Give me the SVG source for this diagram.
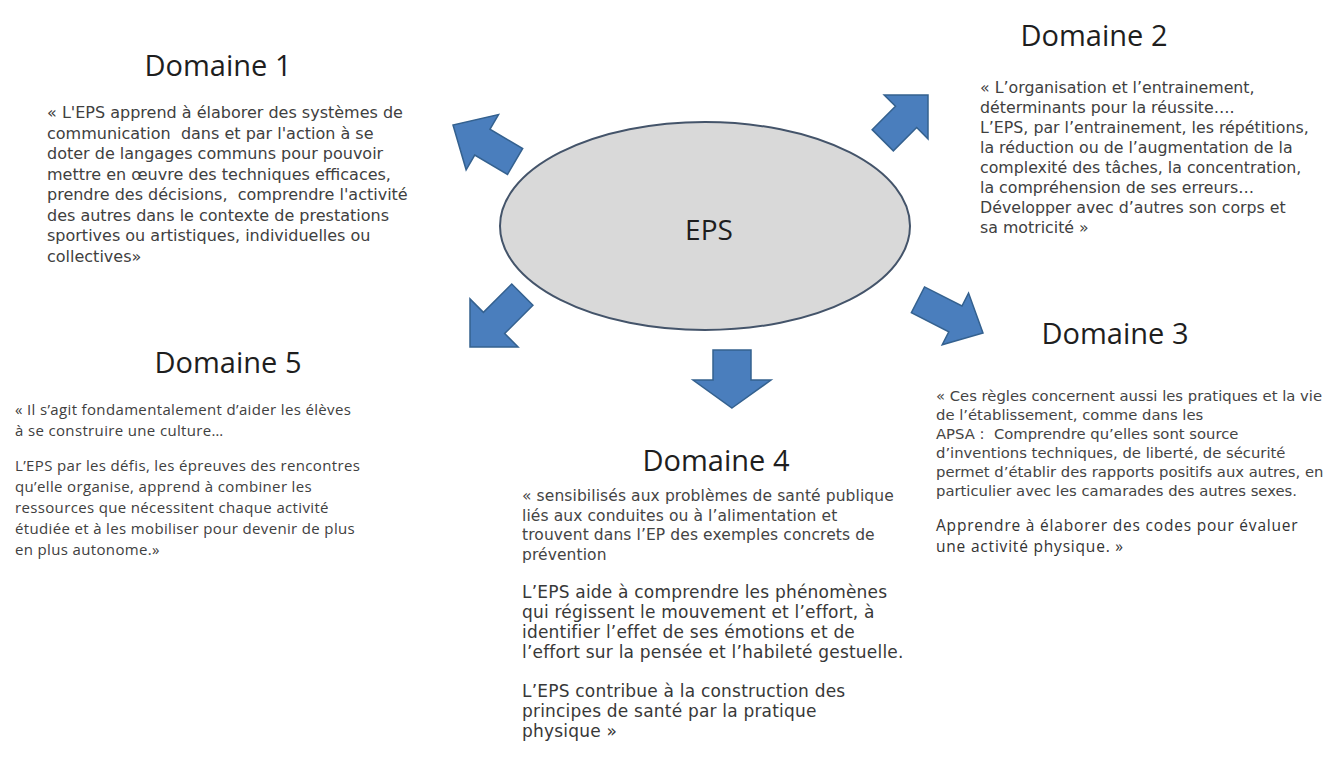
<svg xmlns="http://www.w3.org/2000/svg" width="1329" height="758" viewBox="0 0 1329 758">
<style>
.title{font-family:"Open Sans","DejaVu Sans",sans-serif;font-size:29px;fill:#1e1e1e;text-anchor:middle}
.b1{font-family:"DejaVu Sans",sans-serif;font-size:16px;fill:#404040}
.b2{font-family:"DejaVu Sans",sans-serif;font-size:15.8px;fill:#404040}
.b3{font-family:"DejaVu Sans",sans-serif;font-size:14.8px;fill:#444444}
.b3l{font-family:"Open Sans","DejaVu Sans",sans-serif;font-size:15.5px;letter-spacing:0.8px;fill:#333333}
.b4{font-family:"DejaVu Sans",sans-serif;font-size:15.5px;letter-spacing:0.1px;fill:#444444}
.b4l{font-family:"DejaVu Sans",sans-serif;font-size:17px;letter-spacing:0.2px;fill:#383838}
.b5{font-family:"Open Sans","DejaVu Sans",sans-serif;font-size:15px;letter-spacing:0.35px;fill:#404040}
.arrow{fill:#4a7ebd;stroke:#34618f;stroke-width:1.5;stroke-linejoin:miter}
.center{fill:#d9d9d9;stroke:#44546a;stroke-width:2}
.eps{font-family:"Open Sans","DejaVu Sans",sans-serif;font-size:28px;fill:#1e1e1e;text-anchor:middle}
</style>
<rect width="1329" height="758" fill="#ffffff"/>
<g id="connectors">
<polygon class="arrow" transform="translate(453,125) rotate(-149.6)" points="0,0 -34,-32 -34,-15 -72,-15 -72,15 -34,15 -34,32"/>
<polygon class="arrow" transform="translate(928,95) rotate(-45)" points="0,0 -31,-31 -31,-15 -64,-15 -64,15 -31,15 -31,31"/>
<polygon class="arrow" transform="translate(470,347) rotate(135)" points="0,0 -34,-34 -34,-15 -74,-15 -74,15 -34,15 -34,34"/>
<polygon class="arrow" transform="translate(983,333) rotate(27)" points="0,0 -31,-29 -31,-14.5 -73,-14.5 -73,14.5 -31,14.5 -31,29"/>
<polygon class="arrow" transform="translate(732,408) rotate(90)" points="0,0 -28,-39 -28,-19 -58,-19 -58,19 -28,19 -28,39"/>
</g>
<g id="eps">
<ellipse class="center" cx="705" cy="226" rx="205" ry="104"/>
<text class="eps" x="709" y="240">EPS</text>
</g>
<g id="domaine1">
<text class="title" x="218" y="76">Domaine 1</text>
<text class="b1" x="47" y="118">« L'EPS apprend à élaborer des systèmes de</text>
<text class="b1" x="47" y="138.5" xml:space="preserve">communication  dans et par l'action à se</text>
<text class="b1" x="47" y="159">doter de langages communs pour pouvoir</text>
<text class="b1" x="47" y="179.5">mettre en œuvre des techniques efficaces,</text>
<text class="b1" x="47" y="200" xml:space="preserve">prendre des décisions,  comprendre l'activité</text>
<text class="b1" x="47" y="220.5">des autres dans le contexte de prestations</text>
<text class="b1" x="47" y="241">sportives ou artistiques, individuelles ou</text>
<text class="b1" x="47" y="261.5">collectives»</text>
</g>
<g id="domaine2">
<text class="title" x="1094" y="46">Domaine 2</text>
<text class="b2" x="980" y="93">« L’organisation et l’entrainement,</text>
<text class="b2" x="980" y="113">déterminants pour la réussite….</text>
<text class="b2" x="980" y="133">L’EPS, par l’entrainement, les répétitions,</text>
<text class="b2" x="980" y="153">la réduction ou de l’augmentation de la</text>
<text class="b2" x="980" y="173">complexité des tâches, la concentration,</text>
<text class="b2" x="980" y="193">la compréhension de ses erreurs…</text>
<text class="b2" x="980" y="213">Développer avec d’autres son corps et</text>
<text class="b2" x="980" y="233">sa motricité »</text>
</g>
<g id="domaine3">
<text class="title" x="1115" y="344">Domaine 3</text>
<text class="b3" x="936" y="401">« Ces règles concernent aussi les pratiques et la vie</text>
<text class="b3" x="936" y="420">de l’établissement, comme dans les</text>
<text class="b3" x="936" y="439" xml:space="preserve">APSA :  Comprendre qu’elles sont source</text>
<text class="b3" x="936" y="458">d’inventions techniques, de liberté, de sécurité</text>
<text class="b3" x="936" y="477">permet d’établir des rapports positifs aux autres, en</text>
<text class="b3" x="936" y="496">particulier avec les camarades des autres sexes.</text>
<text class="b3l" x="936" y="531">Apprendre à élaborer des codes pour évaluer</text>
<text class="b3l" x="936" y="552">une activité physique. »</text>
</g>
<g id="domaine4">
<text class="title" x="716" y="471">Domaine 4</text>
<text class="b4" x="522" y="501">« sensibilisés aux problèmes de santé publique</text>
<text class="b4" x="522" y="520.5">liés aux conduites ou à l’alimentation et</text>
<text class="b4" x="522" y="540">trouvent dans l’EP des exemples concrets de</text>
<text class="b4" x="522" y="559.5">prévention</text>
<text class="b4l" x="522" y="598">L’EPS aide à comprendre les phénomènes</text>
<text class="b4l" x="522" y="618">qui régissent le mouvement et l’effort, à</text>
<text class="b4l" x="522" y="638">identifier l’effet de ses émotions et de</text>
<text class="b4l" x="522" y="658">l’effort sur la pensée et l’habileté gestuelle.</text>
<text class="b4l" x="522" y="697">L’EPS contribue à la construction des</text>
<text class="b4l" x="522" y="717">principes de santé par la pratique</text>
<text class="b4l" x="522" y="737">physique »</text>
</g>
<g id="domaine5">
<text class="title" x="228" y="373">Domaine 5</text>
<text class="b5" x="15" y="415">« Il s’agit fondamentalement d’aider les élèves</text>
<text class="b5" x="15" y="436">à se construire une culture…</text>
<text class="b5" x="15" y="471">L’EPS par les défis, les épreuves des rencontres</text>
<text class="b5" x="15" y="492">qu’elle organise, apprend à combiner les</text>
<text class="b5" x="15" y="513">ressources que nécessitent chaque activité</text>
<text class="b5" x="15" y="534">étudiée et à les mobiliser pour devenir de plus</text>
<text class="b5" x="15" y="555">en plus autonome.»</text>
</g>
</svg>
